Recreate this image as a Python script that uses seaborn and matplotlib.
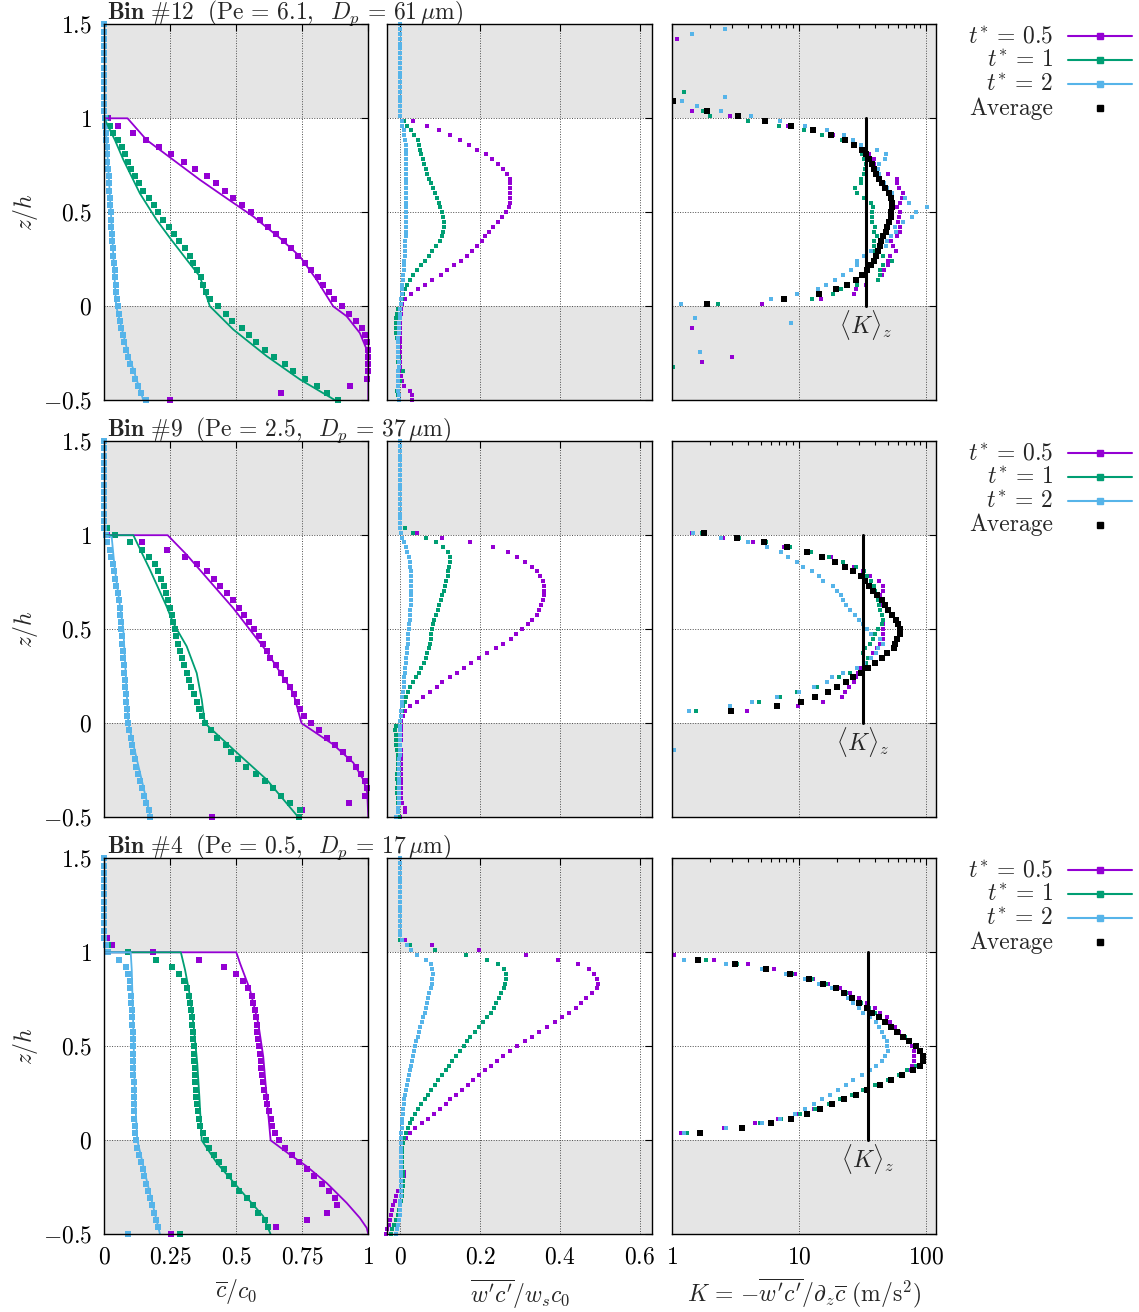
import numpy as np
import matplotlib
matplotlib.use("Agg")
import matplotlib.pyplot as plt
import seaborn as sns
from matplotlib.lines import Line2D
from matplotlib.ticker import FixedLocator, FixedFormatter, LogLocator, NullFormatter, NullLocator

nan = float("nan")

# ---------------------------------------------------------------- grids
z_c = np.arange(53) / 26 - 0.5            # concentration samples, z/h
z_f = (np.arange(-20, 59) + 0.5) / 39     # flux samples (cell centres), z/h

# ---------------------------------------------------------------- Bin #12
c12_t05 = [0.25, 0.67, 0.93, 0.995, 0.998, 0.998, 0.998, 0.998, 0.995, 0.986, 0.975, 0.955, 0.928, 0.899,
           0.870, 0.850, 0.830, 0.808, 0.784, 0.759, 0.734, 0.707, 0.680, 0.650, 0.620, 0.590, 0.556, 0.521,
           0.487, 0.457, 0.423, 0.389, 0.343, 0.302, 0.253, 0.207, 0.157, 0.109, 0.050, 0.015,
           0, 0, 0, 0, 0, 0, 0, 0, 0, 0, 0, 0, 0]
c12_t1 = [0.884, 0.842, 0.804, 0.759, 0.715, 0.684, 0.643, 0.609, 0.573, 0.547, 0.520, 0.482, 0.461, 0.431,
          0.400, 0.384, 0.375, 0.365, 0.350, 0.335, 0.325, 0.306, 0.283, 0.263, 0.245, 0.221, 0.203, 0.187,
          0.169, 0.145, 0.130, 0.115, 0.100, 0.088, 0.077, 0.067, 0.050, 0.033, 0.021, 0.008,
          0, 0, 0, 0, 0, 0, 0, 0, 0, 0, 0, 0, 0]
c12_t2 = [0.158, 0.140, 0.128, 0.117, 0.108, 0.099, 0.090, 0.083, 0.076, 0.070, 0.065, 0.060, 0.055, 0.051,
          0.048, 0.045, 0.043, 0.041, 0.039, 0.036, 0.034, 0.032, 0.031, 0.029, 0.027, 0.026, 0.025, 0.023,
          0.021, 0.019, 0.018, 0.016, 0.014, 0.012, 0.011, 0.009, 0.008, 0.006, 0.004, 0.002,
          0, 0, 0, 0, 0, 0, 0, 0, 0, 0, 0, 0, 0]
fit12_t05_c = [0, 0.088, 0.160, 0.261, 0.362, 0.463, 0.564, 0.665, 0.741, 0.804, 0.867, 0.918, 0.968, 0.994, 1.0, 1.0]
fit12_t05_z = [1.0, 1.0, 0.885, 0.779, 0.673, 0.575, 0.478, 0.363, 0.265, 0.142, 0.0, -0.053, -0.142, -0.23, -0.319, -0.5]
fit12_t1_c = [0, 0.040, 0.072, 0.135, 0.198, 0.249, 0.312, 0.362, 0.400, 0.489, 0.615, 0.741, 0.875]
fit12_t1_z = [1.0, 0.885, 0.780, 0.600, 0.460, 0.363, 0.248, 0.159, 0.0, -0.124, -0.265, -0.389, -0.5]
fit12_t2_c = [0, 0.008, 0.025, 0.045, 0.090, 0.148]
fit12_t2_z = [1.0, 0.9, 0.5, 0.0, -0.25, -0.5]

wc12_t05 = [0.031, 0.029, 0.025, 0.010, 0.004, 0.002, 0.002, 0.001, 0.001, 0.001, 0.001, 0.001, 0.001, 0.001,
            0.001, 0.001, 0.001, 0.001, 0.002, 0.003,
            0.005, 0.0125, 0.027, 0.046, 0.063, 0.081, 0.103, 0.118, 0.135, 0.153, 0.167, 0.181, 0.193, 0.204,
            0.213, 0.223, 0.233, 0.245, 0.256, 0.266, 0.272, 0.275, 0.275, 0.276, 0.276, 0.276, 0.275, 0.268,
            0.257, 0.245, 0.231, 0.216, 0.193, 0.172, 0.151, 0.125, 0.098, 0.067, 0.033,
            0.001, 0.001, 0.001, 0.001, 0.001, 0.001, 0.001, 0.001, 0.001, 0.001, 0.001, 0.001, 0.001, 0.001,
            0.001, 0.001, 0.001, 0.001, 0.001, 0.001]
wc12_t1 = [-0.003, -0.006, -0.008, -0.006, 0.000, -0.005, 0.008, -0.002, -0.004, -0.003, -0.006, -0.004,
           -0.006, -0.008, -0.010, -0.010, -0.010, -0.009, -0.007, -0.004,
           0.002, 0.005, 0.008, 0.012, 0.017, 0.024, 0.032, 0.042, 0.052, 0.062, 0.072, 0.081, 0.090, 0.099,
           0.104, 0.108, 0.110, 0.110, 0.108, 0.105, 0.101, 0.097, 0.093, 0.087, 0.082, 0.077, 0.072, 0.068,
           0.064, 0.060, 0.057, 0.053, 0.050, 0.047, 0.044, 0.036, 0.028, 0.018, 0.010,
           0.001, 0.001, 0.001, 0.001, 0.001, 0.001, 0.001, 0.001, 0.001, 0.001, 0.001, 0.001, 0.001, 0.001,
           0.001, 0.001, 0.001, 0.001, 0.001, 0.001]
wc12_t2 = [-0.002, -0.003, -0.004, -0.005, -0.005, -0.004, -0.004, -0.003, -0.003, -0.004, -0.005, -0.006,
           -0.005, -0.004, -0.003, -0.002, -0.002, -0.001, 0.000, 0.001,
           0.002, 0.003, 0.004, 0.005, 0.006, 0.007, 0.008, 0.009, 0.010, 0.011, 0.012, 0.012, 0.013, 0.013,
           0.014, 0.014, 0.015, 0.015, 0.015, 0.016, 0.016, 0.016, 0.016, 0.016, 0.016, 0.016, 0.016, 0.016,
           0.016, 0.016, 0.016, 0.015, 0.015, 0.014, 0.013, 0.011, 0.009, 0.006, 0.004,
           0, 0, 0, 0, 0, 0, 0, 0, 0, 0, 0, 0, 0, 0, 0, 0, 0, 0, 0, 0]

# log10 K on the flux grid; lists start at the given flux cell, sparse points kept apart
lgK12_t05 = [0.713, 1.174, 1.434, 1.452, 1.528, 1.625, 1.651, 1.670, 1.701, 1.701, 1.717, 1.761, 1.743, 1.725,
             1.769, 1.798, 1.796, 1.780, 1.785, 1.796, 1.775, 1.798, 1.811, 1.817, 1.785, 1.772, 1.772, 1.701,
             1.623, 1.588, 1.588, 1.554, 1.502, 1.439, 1.363, 1.269, 1.114, 0.912, 0.723, 0.459, 0.157]
lgK12_t05_sparse = {-12: 0.236, -11: 0.472, -5: 0.16, 55: 0.039}
lgK12_t1 = [0.364, 1.10, 1.27, 1.332, 1.455, 1.623, 1.638, 1.641, 1.665, 1.735, 1.659, 1.599, 1.588, 1.588,
            1.612, 1.594, 1.599, 1.575, 1.575, 1.578, 1.580, 1.565, 1.510, 1.457, 1.444, 1.486, 1.486, 1.512,
            1.520, 1.526, 1.510, 1.497, 1.494, 1.429, 1.337, 1.182, 1.041, 0.847, 0.600, 0.301, 0.244]
lgK12_t1_sparse = {-13: 0.013, 44: 0.097}
lgK12_t2 = [0.073, 0.781, 0.986, 1.151, 1.211, 1.284, 1.350, 1.410, 1.455, 1.455, 1.510, 1.565, 1.683, 1.693,
            1.722, 1.764, 1.756, 1.819, 1.890, 1.919, 2.005, 1.866, 1.835, 1.735, 1.690, 1.667, 1.638, 1.628,
            1.623, 1.630, 1.675, 1.683, 1.615, 1.486, 1.430, 1.358, 1.219, 1.046, 0.852, 0.621, 0.385, 0.197,
            0.081, 0.417]
lgK12_t2_sparse = {-10: 0.223, -4: 0.938, -3: 0.183, 56: 0.16, 57: 0.419}
lgK12_avg = [0.280, 0.886, 1.156, 1.290, 1.376, 1.447, 1.494, 1.536, 1.567, 1.588, 1.604, 1.623, 1.636, 1.646,
             1.662, 1.683, 1.691, 1.706, 1.727, 1.727, 1.735, 1.735, 1.725, 1.706, 1.678, 1.654, 1.633, 1.609,
             1.588, 1.575, 1.552, 1.531, 1.497, 1.436, 1.366, 1.256, 1.114, 0.941, 0.737, 0.524, 0.280, nan, 0.013]
K12_mean = 33.7

# ---------------------------------------------------------------- Bin #9
c9_t05 = [0.407, 0.750, 0.927, 0.987, 0.994, 0.987, 0.971, 0.952, 0.928, 0.903, 0.874, 0.845, 0.812, 0.782,
          0.758, 0.741, 0.729, 0.717, 0.702, 0.684, 0.668, 0.649, 0.629, 0.615, 0.600, 0.585, 0.567, 0.548,
          0.529, 0.509, 0.487, 0.463, 0.439, 0.415, 0.388, 0.350, 0.304, 0.236, 0.144, 0.010,
          0, 0, 0, 0, 0, 0, 0, 0, 0, 0, 0, 0, 0]
c9_t1 = [0.737, 0.741, 0.703, 0.669, 0.638, 0.609, 0.573, 0.535, 0.505, 0.480, 0.460, 0.427, 0.404, 0.381,
         0.370, 0.360, 0.350, 0.340, 0.330, 0.320, 0.312, 0.303, 0.294, 0.285, 0.278, 0.272, 0.266, 0.262,
         0.256, 0.249, 0.240, 0.232, 0.225, 0.213, 0.203, 0.191, 0.169, 0.144, 0.097, 0.042, 0.009,
         0, 0, 0, 0, 0, 0, 0, 0, 0, 0, 0, 0]
c9_t2 = [0.173, 0.169, 0.158, 0.149, 0.141, 0.134, 0.126, 0.120, 0.115, 0.110, 0.105, 0.100, 0.095, 0.090,
         0.087, 0.085, 0.083, 0.081, 0.079, 0.077, 0.075, 0.073, 0.071, 0.070, 0.068, 0.067, 0.065, 0.063,
         0.061, 0.058, 0.055, 0.050, 0.046, 0.042, 0.038, 0.033, 0.027, 0.020, 0.012, 0.005,
         0, 0, 0, 0, 0, 0, 0, 0, 0, 0, 0, 0, 0]
fit9_t05_c = [0, 0.24, 0.312, 0.489, 0.615, 0.716, 0.747, 0.867, 0.943, 0.981, 0.996, 1.0]
fit9_t05_z = [1.0, 1.0, 0.896, 0.611, 0.382, 0.161, 0.0, -0.113, -0.21, -0.3, -0.37, -0.5]
fit9_t1_c = [0, 0.11, 0.173, 0.236, 0.261, 0.312, 0.350, 0.369, 0.381, 0.489, 0.615, 0.735]
fit9_t1_z = [1.0, 1.0, 0.816, 0.621, 0.533, 0.409, 0.267, 0.126, 0.0, -0.14, -0.30, -0.5]
fit9_t2_c = [0, 0.028, 0.040, 0.072, 0.091, 0.175]
fit9_t2_z = [1.0, 0.99, 0.816, 0.5, 0.0, -0.5]

wc9_t05 = [0.001, 0.012, 0.012, 0.004, 0.002, 0.002, 0.002, 0.002, 0.002, 0.002, 0.002, 0.002, 0.002, 0.002,
           0.002, -0.004, 0.002, 0.002, 0.002, 0.002,
           0.002, 0.007, 0.0125, 0.026, 0.043, 0.058, 0.076, 0.093, 0.106, 0.125, 0.143, 0.161, 0.177, 0.198,
           0.218, 0.240, 0.258, 0.277, 0.291, 0.306, 0.321, 0.331, 0.342, 0.348, 0.353, 0.357, 0.359, 0.360,
           0.360, 0.357, 0.351, 0.343, 0.331, 0.313, 0.293, 0.271, 0.232, 0.175, 0.104,
           0.043, 0.001, 0.001, 0.001, 0.001, 0.001, 0.001, 0.001, 0.001, 0.001, 0.001, 0.001, 0.001, 0.001,
           0.001, 0.001, 0.001, 0.001, 0.001, 0.001]
wc9_t1 = [-0.003, -0.004, -0.005, -0.004, -0.006, -0.008, -0.007, -0.006, -0.008, -0.008, -0.006, -0.005,
          -0.005, -0.006, -0.008, -0.009, -0.010, -0.011, -0.0125, -0.010,
          0.000, 0.003, 0.005, 0.008, 0.012, 0.015, 0.020, 0.025, 0.032, 0.040, 0.048, 0.053, 0.059, 0.064,
          0.068, 0.072, 0.074, 0.077, 0.078, 0.081, 0.083, 0.086, 0.090, 0.094, 0.098, 0.103, 0.106, 0.110,
          0.113, 0.116, 0.119, 0.121, 0.123, 0.126, 0.125, 0.119, 0.108, 0.089, 0.065,
          0.033, 0.0125, 0.001, 0.001, 0.001, 0.001, 0.001, 0.001, 0.001, 0.001, 0.001, 0.001, 0.001, 0.001,
          0.001, 0.001, 0.001, 0.001, 0.001, 0.001]
wc9_t2 = [-0.010, -0.006, -0.004, -0.003, -0.002, -0.002, -0.002, -0.003, -0.003, -0.003, -0.002, -0.002,
          -0.002, -0.001, -0.001, -0.001, 0.000, 0.000, 0.000, 0.000,
          0.001, 0.002, 0.003, 0.004, 0.005, 0.006, 0.007, 0.009, 0.010, 0.011, 0.012, 0.013, 0.014, 0.016,
          0.017, 0.018, 0.019, 0.020, 0.021, 0.022, 0.023, 0.024, 0.025, 0.026, 0.027, 0.027, 0.027, 0.027,
          0.027, 0.027, 0.027, 0.027, 0.026, 0.024, 0.022, 0.018, 0.014, 0.010, 0.006,
          0.003, 0, 0, 0, 0, 0, 0, 0, 0, 0, 0, 0, 0, 0, 0, 0, 0, 0, 0, 0]

lgK9_t05 = [0.59, 0.991, 1.187, 1.337, 1.363, 1.394, 1.434, 1.452, 1.463, 1.481, 1.52, 1.565, 1.586, 1.612,
            1.638, 1.659, 1.662, 1.664, 1.659, 1.664, 1.657, 1.638, 1.643, 1.633, 1.641, 1.662, 1.659, 1.628,
            1.562, 1.507, 1.431, 1.35, 1.25, 1.075, 0.883, 0.64, 0.401, 0.157]
lgK9_t05_sparse = {}
lgK9_t1 = [0.189, 0.459, 0.689, 0.852, 0.983, 1.143, 1.219, 1.316, 1.40, 1.455, 1.528, 1.544, 1.502, 1.52,
           1.557, 1.58, 1.60, 1.62, 1.654, 1.659, 1.655, 1.64, 1.63, 1.62, 1.61, 1.60, 1.59, 1.57, 1.536,
           1.51, 1.45, 1.345, 1.235, 1.093, 0.93, 0.74, 0.527, 0.241]
lgK9_t1_sparse = {}
lgK9_t2 = [0.136, 0.459, 0.629, 0.826, 1.0, 1.119, 1.22, 1.261, 1.345, 1.455, 1.51, 1.565, 1.607, 1.625,
           1.659, 1.638, 1.565, 1.533, 1.507, 1.476, 1.442, 1.4, 1.371, 1.345, 1.329, 1.3, 1.266, 1.193,
           1.156, 1.104, 1.03, 0.983, 0.917, 0.857, 0.747, 0.6, 0.388, 0.17]
lgK9_t2_sparse = {-6: 0.018}
lgK9_avg = [0.469, 0.831, 1.02, 1.13, 1.227, 1.303, 1.368, 1.429, 1.489, 1.547, 1.602, 1.654, 1.696, 1.751,
            1.76, 1.775, 1.796, 1.796, 1.777, 1.764, 1.735, 1.704, 1.68, 1.654, 1.617, 1.586, 1.552, 1.518,
            1.486, 1.429, 1.366, 1.284, 1.185, 1.064, 0.91, 0.729, 0.511, 0.257]
K9_mean = 31.8

# ---------------------------------------------------------------- Bin #4
c4_t05 = [0.251, 0.651, 0.766, 0.842, 0.880, 0.874, 0.852, 0.824, 0.794, 0.766, 0.739, 0.712, 0.686, 0.662,
          0.645, 0.637, 0.630, 0.623, 0.617, 0.611, 0.606, 0.602, 0.598, 0.595, 0.592, 0.589, 0.586, 0.583,
          0.580, 0.577, 0.575, 0.570, 0.565, 0.558, 0.544, 0.524, 0.499, 0.452, 0.360, 0.183, 0.030, 0.009,
          0, 0, 0, 0, 0, 0, 0, 0, 0, 0, 0]
c4_t1 = [0.287, 0.621, 0.609, 0.583, 0.562, 0.540, 0.511, 0.491, 0.471, 0.453, 0.434, 0.415, 0.398, 0.385,
         0.372, 0.364, 0.358, 0.354, 0.351, 0.349, 0.347, 0.345, 0.343, 0.342, 0.341, 0.340, 0.338, 0.337,
         0.336, 0.334, 0.332, 0.328, 0.325, 0.320, 0.312, 0.300, 0.282, 0.255, 0.195, 0.090, 0.013,
         0, 0, 0, 0, 0, 0, 0, 0, 0, 0, 0, 0]
c4_t2 = [0.091, 0.205, 0.196, 0.188, 0.179, 0.172, 0.164, 0.157, 0.150, 0.145, 0.138, 0.131, 0.125, 0.120,
         0.117, 0.115, 0.114, 0.113, 0.112, 0.112, 0.111, 0.111, 0.110, 0.110, 0.109, 0.109, 0.108, 0.108,
         0.107, 0.106, 0.105, 0.104, 0.102, 0.100, 0.098, 0.096, 0.091, 0.081, 0.056, 0.015, 0.005,
         0, 0, 0, 0, 0, 0, 0, 0, 0, 0, 0, 0]
fit4_t05_c = [0, 0.5, 0.514, 0.552, 0.583, 0.602, 0.615, 0.63, 0.703, 0.766, 0.842, 0.918, 0.968, 0.994, 1.0]
fit4_t05_z = [1.0, 1.0, 0.942, 0.8, 0.624, 0.446, 0.234, 0.0, -0.076, -0.138, -0.227, -0.333, -0.413, -0.466, -0.5]
fit4_t1_c = [0, 0.29, 0.306, 0.325, 0.340, 0.352, 0.360, 0.369, 0.426, 0.514, 0.602, 0.63]
fit4_t1_z = [1.0, 1.0, 0.906, 0.764, 0.587, 0.411, 0.234, 0.0, -0.12, -0.263, -0.404, -0.5]
fit4_t2_c = [0, 0.10, 0.104, 0.110, 0.116, 0.125, 0.160, 0.211]
fit4_t2_z = [1.0, 1.0, 0.906, 0.587, 0.234, 0.0, -0.209, -0.5]

wc4_t05 = [-0.035, -0.032, -0.027, -0.026, -0.023, -0.021, -0.017, -0.013, -0.009, -0.004, 0.002, 0.003,
           0.010, 0.010, 0.005, 0.003, 0.003, 0.003, 0.003, 0.005,
           0.014, 0.025, 0.038, 0.055, 0.071, 0.085, 0.101, 0.116, 0.126, 0.141, 0.155, 0.169, 0.183, 0.198,
           0.213, 0.227, 0.243, 0.258, 0.275, 0.293, 0.313, 0.331, 0.348, 0.368, 0.388, 0.405, 0.423, 0.440,
           0.453, 0.466, 0.481, 0.493, 0.495, 0.493, 0.485, 0.472, 0.446, 0.395, 0.314,
           0.198, 0.080, 0.012, 0.001, 0.001, 0.001, 0.001, 0.001, 0.001, 0.001, 0.001, 0.001, 0.001, 0.001,
           0.001, 0.001, 0.001, 0.001, 0.001, 0.001]
wc4_t1 = [-0.023, -0.020, -0.015, -0.010, -0.006, -0.003, 0.000, 0.003, 0.005, 0.006, 0.007, 0.007, 0.007,
          0.007, 0.006, 0.006, 0.006, 0.006, 0.006, 0.007,
          0.010, 0.014, 0.019, 0.024, 0.031, 0.038, 0.046, 0.053, 0.062, 0.070, 0.078, 0.088, 0.096, 0.105,
          0.114, 0.123, 0.130, 0.139, 0.149, 0.159, 0.168, 0.176, 0.187, 0.197, 0.208, 0.218, 0.227, 0.235,
          0.241, 0.248, 0.253, 0.259, 0.263, 0.265, 0.265, 0.260, 0.246, 0.218, 0.166,
          0.088, 0.026, 0.001, 0.001, 0.001, 0.001, 0.001, 0.001, 0.001, 0.001, 0.001, 0.001, 0.001, 0.001,
          0.001, 0.001, 0.001, 0.001, 0.001, 0.001]
wc4_t2 = [-0.011, -0.008, -0.005, -0.003, -0.001, 0.000, 0.001, 0.001, 0.002, 0.002, 0.002, 0.002, 0.002,
          0.002, 0.002, 0.002, 0.002, 0.002, 0.002, 0.002,
          0.003, 0.003, 0.004, 0.005, 0.006, 0.007, 0.008, 0.009, 0.011, 0.013, 0.014, 0.017, 0.019, 0.022,
          0.024, 0.027, 0.029, 0.032, 0.034, 0.038, 0.041, 0.044, 0.048, 0.051, 0.054, 0.058, 0.062, 0.064,
          0.068, 0.071, 0.073, 0.077, 0.079, 0.081, 0.082, 0.081, 0.077, 0.064, 0.042,
          0.028, 0.017, 0.005, 0, 0, 0, 0, 0, 0, 0, 0, 0, 0, 0, 0, 0, 0, 0, 0, 0]

lgK4_t05 = [0.073, 0.412, 0.653, 0.836, 1.00, 1.12, 1.24, 1.33, 1.45, 1.53, 1.62, 1.70, 1.79, 1.86, 1.89,
            1.906, 1.906, 1.908, 1.893, 1.87, 1.83, 1.79, 1.76, 1.72, 1.691, 1.64, 1.599, 1.533, 1.473,
            1.402, 1.324, 1.232, 1.114, 0.967, 0.802, 0.598, 0.333, 0.021]
lgK4_t05_sparse = {}
lgK4_t1 = [0.118, 0.427, 0.695, 0.86, 1.009, 1.124, 1.24, 1.324, 1.42, 1.502, 1.60, 1.70, 1.79, 1.85, 1.92,
           1.966, 1.971, 1.961, 1.921, 1.87, 1.835, 1.78, 1.73, 1.68, 1.64, 1.60, 1.55, 1.49, 1.43, 1.37,
           1.30, 1.21, 1.10, 0.95, 0.75, 0.51, 0.267]
lgK4_t1_sparse = {}
lgK4_t2 = [0.097, 0.427, 0.71, 0.852, 0.972, 1.051, 1.122, 1.182, 1.245, 1.305, 1.368, 1.423, 1.494, 1.56,
           1.604, 1.651, 1.68, 1.699, 1.695, 1.691, 1.67, 1.651, 1.63, 1.607, 1.56, 1.507, 1.47, 1.43, 1.384,
           1.345, 1.26, 1.16, 1.05, 0.90, 0.713, 0.427, 0.097]
lgK4_t2_sparse = {}
lgK4_avg = [0.223, 0.556, 0.781, 0.938, 1.064, 1.166, 1.263, 1.358, 1.452, 1.539, 1.638, 1.725, 1.814, 1.9,
            1.955, 1.974, 1.976, 1.955, 1.919, 1.866, 1.822, 1.775, 1.727, 1.68, 1.633, 1.578, 1.533, 1.476,
            1.421, 1.358, 1.29, 1.193, 1.083, 0.933, 0.742, 0.501, 0.21]
K4_mean = 35.0

bin_titles = [r"$\mathbf{Bin\ \#12}\ \ (\mathrm{Pe}\,=\,6.1,\;\ D_p\,=\,61\,\mu\mathrm{m})$",
              r"$\mathbf{Bin\ \#9}\ \ (\mathrm{Pe}\,=\,2.5,\;\ D_p\,=\,37\,\mu\mathrm{m})$",
              r"$\mathbf{Bin\ \#4}\ \ (\mathrm{Pe}\,=\,0.5,\;\ D_p\,=\,17\,\mu\mathrm{m})$"]
series_labels = [r"$t^{*}\,=\,0.5$", r"$t^{*}\,=\,1$", r"$t^{*}\,=\,2$", "Average"]

# ---------------------------------------------------------------- style
PURPLE, GREEN, CYAN, BLACK = "#9400d3", "#009e73", "#56b4e9", "#000000"
SHADE = "#e5e5e5"
sns.set_theme(style="white")
plt.rcParams.update({
    "font.family": "serif",
    "font.serif": ["cmr10"],
    "mathtext.fontset": "cm",
    "axes.unicode_minus": False,
    "axes.formatter.use_mathtext": True,
    "font.size": 17,
    "axes.edgecolor": "black",
    "axes.linewidth": 1.0,
})


def flux_series(first, logs, sparse):
    vals = np.full(z_f.size, np.nan)
    vals[first + 20: first + 20 + len(logs)] = logs
    for m, v in sparse.items():
        vals[m + 20] = v
    return 10.0 ** vals


bins = [
    dict(c=[c12_t05, c12_t1, c12_t2],
         fit=[(fit12_t05_c, fit12_t05_z), (fit12_t1_c, fit12_t1_z), (fit12_t2_c, fit12_t2_z)],
         wc=[wc12_t05, wc12_t1, wc12_t2],
         K=[flux_series(0, lgK12_t05, lgK12_t05_sparse), flux_series(0, lgK12_t1, lgK12_t1_sparse),
            flux_series(0, lgK12_t2, lgK12_t2_sparse)],
         Kavg=flux_series(0, lgK12_avg, {}), Kmean=K12_mean),
    dict(c=[c9_t05, c9_t1, c9_t2],
         fit=[(fit9_t05_c, fit9_t05_z), (fit9_t1_c, fit9_t1_z), (fit9_t2_c, fit9_t2_z)],
         wc=[wc9_t05, wc9_t1, wc9_t2],
         K=[flux_series(2, lgK9_t05, lgK9_t05_sparse), flux_series(2, lgK9_t1, lgK9_t1_sparse),
            flux_series(2, lgK9_t2, lgK9_t2_sparse)],
         Kavg=flux_series(2, lgK9_avg, {}), Kmean=K9_mean),
    dict(c=[c4_t05, c4_t1, c4_t2],
         fit=[(fit4_t05_c, fit4_t05_z), (fit4_t1_c, fit4_t1_z), (fit4_t2_c, fit4_t2_z)],
         wc=[wc4_t05, wc4_t1, wc4_t2],
         K=[flux_series(1, lgK4_t05, lgK4_t05_sparse), flux_series(1, lgK4_t1, lgK4_t1_sparse),
            flux_series(1, lgK4_t2, lgK4_t2_sparse)],
         Kavg=flux_series(1, lgK4_avg, {}), Kmean=K4_mean),
]
colors = [PURPLE, GREEN, CYAN]

# ---------------------------------------------------------------- layout (pixels)
W, H = 1139, 1312
fig = plt.figure(figsize=(W / 100, H / 100), dpi=100)
col_left = [104.3, 387.3, 671.7]
col_width = [264.0, 265.0, 264.3]
row_top = [24.3, 441.2, 858.3]
row_h = 376.0


def make_axes(r, c):
    return fig.add_axes([col_left[c] / W, 1 - (row_top[r] + row_h) / H, col_width[c] / W, row_h / H])


def dress(ax, xticks, xlabels, show_x, show_y, log=False):
    ax.axhspan(1.0, 1.5, color=SHADE, lw=0, zorder=0.1)
    ax.axhspan(-0.5, 0.0, color=SHADE, lw=0, zorder=0.1)
    ax.set_ylim(-0.5, 1.5)
    ax.yaxis.set_major_locator(FixedLocator([-0.5, 0, 0.5, 1, 1.5]))
    ax.yaxis.set_major_formatter(FixedFormatter([r"$-0.5$", r"$0$", r"$0.5$", r"$1$", r"$1.5$"]))
    ax.yaxis.set_minor_locator(NullLocator())
    ax.xaxis.set_major_locator(FixedLocator(xticks))
    ax.xaxis.set_major_formatter(FixedFormatter(xlabels))
    if log:
        ax.xaxis.set_minor_locator(LogLocator(base=10, subs=range(2, 10)))
        ax.xaxis.set_minor_formatter(NullFormatter())
    else:
        ax.xaxis.set_minor_locator(NullLocator())
    ax.grid(True, which="major", color="#4d4d4d", lw=0.7, ls=(0, (1, 1.6)), zorder=0.5)
    ax.set_axisbelow(True)
    ax.tick_params(which="both", direction="in", top=True, right=True, width=0.8,
                   labelsize=17, pad=9, colors="black")
    ax.tick_params(which="major", length=5)
    ax.tick_params(which="minor", length=3)
    ax.tick_params(axis="x", labelbottom=show_x)
    ax.tick_params(axis="y", labelleft=show_y)
    for s in ax.spines.values():
        s.set_color("black")
        s.set_linewidth(1.0)
        s.set_zorder(4)
    ax.set_xlabel("")
    ax.set_ylabel("")


for r, b in enumerate(bins):
    last = r == 2
    # concentration profiles
    ax = make_axes(r, 0)
    for vals, (fc, fz), col in zip(b["c"], b["fit"], colors):
        sns.scatterplot(x=vals, y=z_c, ax=ax, color=col, marker="s", s=24, linewidth=0,
                        clip_on=False, zorder=3, legend=False)
        sns.lineplot(x=fc, y=fz, ax=ax, color=col, lw=1.3, sort=False, estimator=None,
                     zorder=3.5, legend=False)
    ax.set_xlim(0, 1)
    dress(ax, [0, 0.25, 0.5, 0.75, 1], [r"$0$", r"$0.25$", r"$0.5$", r"$0.75$", r"$1$"], last, True)
    ax.set_ylabel(r"$z/h$", fontsize=17, labelpad=2)
    if last:
        ax.set_xlabel(r"$\overline{c}/c_0$", fontsize=17, labelpad=6)
    ax.text(0.012, 1.0 + 5.5 / row_h, bin_titles[r], transform=ax.transAxes, ha="left",
            va="baseline", fontsize=17)

    # turbulent flux profiles
    ax = make_axes(r, 1)
    for vals, col in zip(b["wc"], colors):
        sns.scatterplot(x=vals, y=z_f, ax=ax, color=col, marker="s", s=10, linewidth=0,
                        clip_on=False, zorder=3, legend=False)
    ax.set_xlim(-0.032, 0.631)
    dress(ax, [0, 0.2, 0.4, 0.6], [r"$0$", r"$0.2$", r"$0.4$", r"$0.6$"], last, False)
    if last:
        ax.set_xlabel(r"$\overline{w^\prime c^\prime}/w_s c_0$", fontsize=17, labelpad=6)

    # eddy diffusivity profiles
    ax = make_axes(r, 2)
    ax.set_xscale("log")
    for vals, col in zip(b["K"], colors):
        sns.scatterplot(x=vals, y=z_f, ax=ax, color=col, marker="s", s=8, linewidth=0,
                        zorder=3, legend=False)
    sns.scatterplot(x=b["Kavg"], y=z_f, ax=ax, color=BLACK, marker="s", s=13, linewidth=0,
                    zorder=3.2, legend=False)
    sns.lineplot(x=[b["Kmean"], b["Kmean"]], y=[0.0, 1.0], ax=ax, color=BLACK, lw=2.2,
                 sort=False, estimator=None, zorder=3.4, legend=False)
    ax.text(b["Kmean"], -0.1, r"$\langle K\rangle_z$", ha="center", va="center", fontsize=17,
            zorder=5)
    ax.set_xlim(1, 120)
    dress(ax, [1, 10, 100], [r"$1$", r"$10$", r"$100$"], last, False, log=True)
    if last:
        ax.set_xlabel(r"$K\,=\,{-}\overline{w^\prime c^\prime}/\partial_z \overline{c}\ (\mathrm{m/s^2})$",
                      fontsize=17, labelpad=6)

    # key, to the right of each row
    for i, (lab, col) in enumerate(zip(series_labels, colors + [BLACK])):
        yf = 1 - (row_top[r] + 12 + 24 * i) / H
        fig.text(1053 / W, yf, lab, ha="right", va="center", fontsize=17)
        if i < 3:
            fig.add_artist(Line2D([1068 / W, 1132 / W], [yf, yf], color=col, lw=1.5))
        fig.add_artist(Line2D([1100 / W], [yf], marker="s", ms=4.8, color=col, mec=col, ls="none"))

fig.savefig("out.png", dpi=100)
